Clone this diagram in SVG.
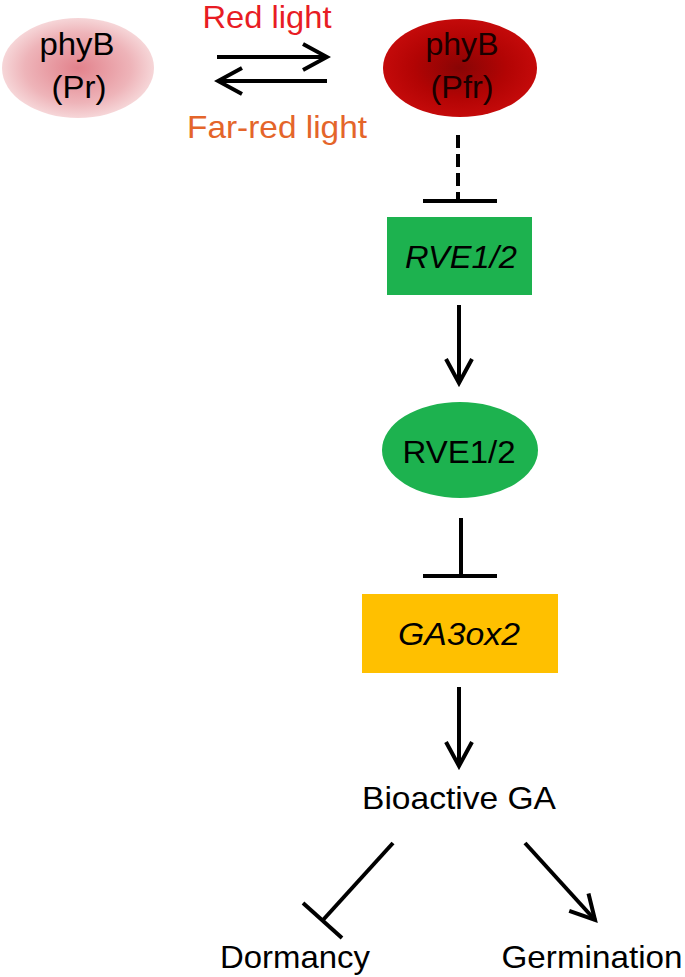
<svg xmlns="http://www.w3.org/2000/svg" width="685" height="977" viewBox="0 0 685 977">
<style>
text{font-family:"Liberation Sans",Arial,sans-serif;font-size:32px;fill:#000;text-anchor:middle}
.it{font-style:italic}
.ln{stroke:#000;stroke-width:4;fill:none}
</style>
<defs>
<radialGradient id="gPr" cx="50%" cy="50%" r="50%">
<stop offset="0" stop-color="#e2828c"/>
<stop offset="0.7" stop-color="#eeb4b9"/>
<stop offset="1" stop-color="#f6d6d8"/>
</radialGradient>
<radialGradient id="gPfr" cx="50%" cy="50%" r="50%">
<stop offset="0" stop-color="#880505"/>
<stop offset="0.6" stop-color="#b20404"/>
<stop offset="1" stop-color="#c40a0a"/>
</radialGradient>
<marker id="arr" viewBox="-28 -16 32 32" markerWidth="32" markerHeight="32" refX="0" refY="0" orient="auto" markerUnits="userSpaceOnUse">
<path d="M-24,-13 L0,0 L-24,13" fill="none" stroke="#000" stroke-width="4"/>
</marker>
</defs>
<rect width="685" height="977" fill="#fff"/>
<g id="phyB-Pr">
<ellipse cx="78" cy="68" rx="76" ry="50" fill="url(#gPr)"/>
<text x="77" y="55" textLength="75" lengthAdjust="spacingAndGlyphs">phyB</text>
<text x="79" y="98" textLength="55" lengthAdjust="spacingAndGlyphs">(Pr)</text>
</g>
<g id="phyB-Pfr">
<ellipse cx="460" cy="68" rx="77" ry="49" fill="url(#gPfr)"/>
<text x="462" y="55" textLength="73" lengthAdjust="spacingAndGlyphs" style="fill:#1a0000">phyB</text>
<text x="462" y="98" textLength="63" lengthAdjust="spacingAndGlyphs" style="fill:#1a0000">(Pfr)</text>
</g>
<g id="labels-light">
<text x="267" y="28" style="fill:#e81c24" textLength="129" lengthAdjust="spacingAndGlyphs">Red light</text>
<text x="277" y="138" style="fill:#e4652a" textLength="180" lengthAdjust="spacingAndGlyphs">Far-red light</text>
</g>
<g id="RVE-gene">
<rect x="387" y="217" width="145" height="78" fill="#1db24f"/>
<text class="it" x="461" y="268" textLength="112" lengthAdjust="spacingAndGlyphs">RVE1/2</text>
</g>
<g id="RVE-protein">
<ellipse cx="460" cy="450" rx="78" ry="48" fill="#1db24f"/>
<text x="459" y="463" textLength="113" lengthAdjust="spacingAndGlyphs">RVE1/2</text>
</g>
<g id="GA3ox2">
<rect x="362" y="594" width="196" height="79" fill="#ffc000"/>
<text class="it" x="459" y="645" textLength="122" lengthAdjust="spacingAndGlyphs">GA3ox2</text>
</g>
<g id="bioactive-GA">
<text x="459" y="809" textLength="194" lengthAdjust="spacingAndGlyphs">Bioactive GA</text>
</g>
<g id="dormancy">
<text x="295" y="968" textLength="150" lengthAdjust="spacingAndGlyphs">Dormancy</text>
</g>
<g id="germination">
<text x="592" y="968" textLength="181" lengthAdjust="spacingAndGlyphs">Germination</text>
</g>
<g id="connectors">
<line class="ln" x1="217" y1="57" x2="327" y2="57" marker-end="url(#arr)"/>
<line class="ln" x1="327" y1="81" x2="218" y2="81" marker-end="url(#arr)"/>
<line class="ln" x1="458" y1="135" x2="458" y2="200" stroke-dasharray="13 6"/>
<line class="ln" x1="423" y1="201" x2="497" y2="201"/>
<line class="ln" x1="459" y1="305" x2="459" y2="383" marker-end="url(#arr)"/>
<line class="ln" x1="461" y1="518" x2="461" y2="576"/>
<line class="ln" x1="423" y1="576" x2="497" y2="576"/>
<line class="ln" x1="459" y1="687" x2="459" y2="766" marker-end="url(#arr)"/>
<line class="ln" x1="393" y1="843" x2="323" y2="920"/>
<line class="ln" x1="303" y1="903" x2="342" y2="938"/>
<line class="ln" x1="525" y1="843" x2="595" y2="920" marker-end="url(#arr)"/>
</g>
</svg>
